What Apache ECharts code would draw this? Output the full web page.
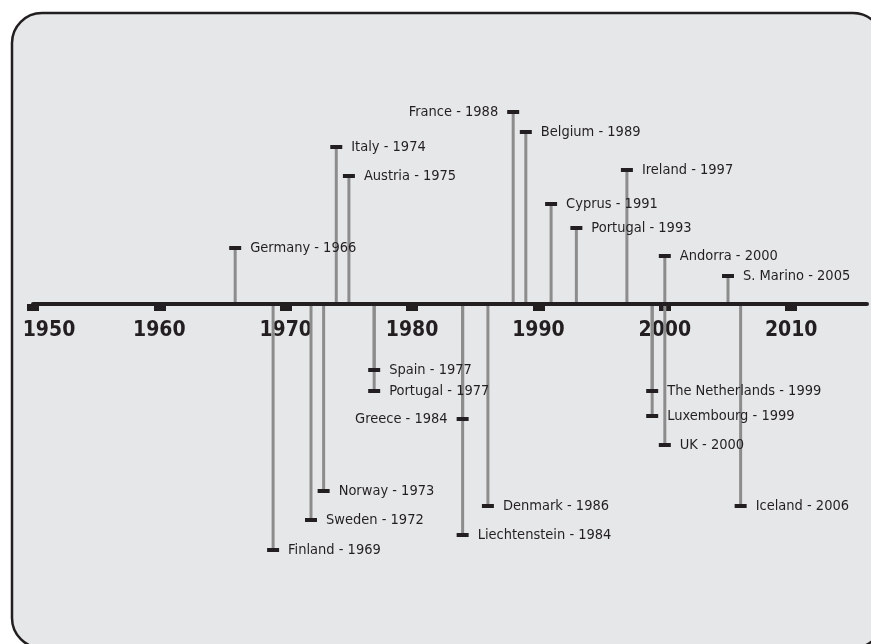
<!DOCTYPE html>
<html>
<head>
<meta charset="utf-8">
<title>Timeline</title>
<script src="https://cdn.jsdelivr.net/npm/echarts@6/dist/echarts.min.js"></script>
<style>
  html, body { margin: 0; padding: 0; background: #fff; }
  #chart { width: 871px; height: 644px; }
</style>
</head>
<body>
<div id="chart"></div>
<script>
// country, year of entry, and stem height (above axis > 0, below < 0)
var countries = ['France', 'Belgium', 'Italy', 'Ireland', 'Austria', 'Cyprus', 'Portugal', 'Germany', 'Andorra', 'S. Marino',
  'Spain', 'Portugal', 'Greece', 'Norway', 'Denmark', 'Sweden', 'Liechtenstein', 'Finland',
  'The Netherlands', 'Luxembourg', 'UK', 'Iceland'];
var years = [1988, 1989, 1974, 1997, 1975, 1991, 1993, 1966, 2000, 2005,
  1977, 1977, 1984, 1973, 1986, 1972, 1984, 1969,
  1999, 1999, 2000, 2006];
var heights = [192, 172, 157, 134, 128, 100, 76, 56, 48, 28,
  -66, -87, -115, -187, -202, -216, -231, -246,
  -87, -112, -141, -202];
var tickYears = [1950, 1960, 1970, 1980, 1990, 2000, 2010];
var leftLabels = ['France', 'Greece'];

var ink = '#231f20';
var fontFamily = '"DejaVu Sans Condensed", "DejaVu Sans", sans-serif';
var textFont = '14.5px ' + fontFamily;

var data = years.map(function (y, i) { return [y, heights[i]]; });

function renderEvent(params, api) {
  var year = api.value(0);
  var h = api.value(1);
  var base = api.coord([year, 0]);
  var top = api.coord([year, h]);
  var name = countries[params.dataIndex];
  var onLeft = leftLabels.indexOf(name) >= 0;
  // start the stem just off the axis line so the axis stays on top
  var y0 = base[1] + (h > 0 ? -2 : 2);
  return {
    type: 'group',
    children: [
      {
        type: 'line', z2: 1,
        shape: { x1: base[0], y1: y0, x2: top[0], y2: top[1] },
        style: { stroke: '#8c8c8c', lineWidth: 3 }
      },
      {
        type: 'rect', z2: 5,
        shape: { x: top[0] - 6, y: top[1] - 2, width: 12, height: 4 },
        style: { fill: ink }
      },
      {
        type: 'text', z2: 10,
        x: onLeft ? top[0] - 15 : top[0] + 15,
        y: top[1],
        style: {
          text: name + ' - ' + year,
          fill: ink,
          font: textFont,
          align: onLeft ? 'right' : 'left',
          verticalAlign: 'middle'
        }
      }
    ]
  };
}

var chart = echarts.init(document.getElementById('chart'));
chart.setOption({
  animation: false,
  graphic: [{
    type: 'rect',
    z: -10,
    shape: { x: 12, y: 13, width: 871, height: 635, r: 30 },
    style: { fill: '#e6e7e8', stroke: ink, lineWidth: 2.5 }
  }],
  // the grid covers only the part above the axis; stems below it extend past the grid edge
  grid: { left: 33, right: 4, top: 4, bottom: 340, outerBoundsMode: 'none' },
  xAxis: {
    type: 'value',
    min: 1950,
    max: 2016,
    position: 'bottom',
    z: 1,
    splitLine: { show: false },
    axisLine: { show: true, onZero: false, lineStyle: { color: ink, width: 4 } },
    axisTick: {
      show: true,
      customValues: tickYears,
      length: 7,
      lineStyle: { color: ink, width: 12 }
    },
    axisLabel: {
      customValues: tickYears,
      margin: 16,
      color: ink,
      fontFamily: fontFamily,
      fontWeight: 'bold',
      fontSize: 21,
      formatter: function (v) {
        return v === 1950 ? '{first|' + v + '}' : String(v);
      },
      rich: {
        first: {
          padding: [0, 0, 0, 32],
          color: ink,
          fontFamily: fontFamily,
          fontWeight: 'bold',
          fontSize: 21
        }
      }
    }
  },
  yAxis: {
    type: 'value',
    min: 0,
    max: 300,
    show: false
  },
  series: [{
    type: 'custom',
    z: 3,
    clip: false,
    renderItem: renderEvent,
    data: data
  }]
});
</script>
</body>
</html>
